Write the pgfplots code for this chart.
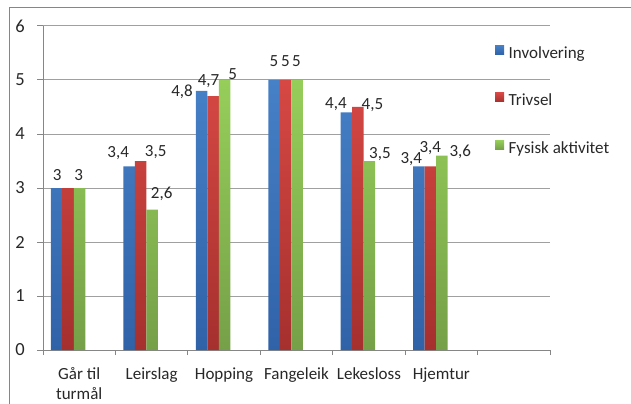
\documentclass[border=0pt]{standalone}
\usepackage{fontspec}
\setmainfont{Carlito}
\usepackage{pgfplots}
\usepackage{pgfplotstable}
\pgfplotsset{compat=1.18}

\definecolor{axgray}{RGB}{134,134,134}
\definecolor{gridgray}{RGB}{160,160,160}
\definecolor{txt}{RGB}{40,40,40}
\definecolor{blueTop}{RGB}{70,128,198}
\definecolor{blueBot}{RGB}{48,98,168}
\definecolor{blueMid}{RGB}{60,115,188}
\definecolor{redTop}{RGB}{214,72,68}
\definecolor{redBot}{RGB}{165,48,46}
\definecolor{redMid}{RGB}{195,60,56}
\definecolor{greenTop}{RGB}{150,206,90}
\definecolor{greenBot}{RGB}{118,160,72}
\definecolor{greenMid}{RGB}{138,188,82}

% x y  label offset (dx, dy in bp)  label shown (op)
\pgfplotstableread{
x y   dx    dy   op
0 3.0  0.5  12.5 1
1 3.4 -11   13.4 1
2 4.8 -19.5 -1   1
3 5.0  0    18.5 1
4 4.4 -10.5  8.4 1
5 3.4 -7.5   7   1
}\involvering
\pgfplotstableread{
x y   dx    dy   op
0 3.0  0    13   0
1 3.5  15    9   1
2 4.7 -4.5  15   1
3 5.0  0    18.5 1
4 4.5  14.5  2   1
5 3.4  0    18   1
}\trivsel
\pgfplotstableread{
x y   dx    dy   op
0 3.0 -1    12.5 1
1 2.6  9.5  15.6 1
2 5.0  8     6   1
3 5.0 -0.5  18.5 1
4 3.5  10.5  7   1
5 3.6  18.5  3.6 1
}\fysisk

\pgfplotsset{
  barlabels/.style={
    nodes near coords,
    visualization depends on={\thisrow{dx} \as \ldx},
    visualization depends on={\thisrow{dy} \as \ldy},
    visualization depends on={\thisrow{op} \as \lop},
    every node near coord/.append style={anchor=center, inner sep=0pt,
      xshift=\ldx bp, yshift=\ldy bp, opacity=\lop, text=txt,
      font=\fontsize{17bp}{20bp}\selectfont},
  },
}

\begin{document}
\begin{tikzpicture}[x=1bp,y=1bp]
\useasboundingbox (0,0) rectangle (631,403);
\draw[axgray, line width=1bp] (9,-10) -- (9,395) -- (645,395);
\begin{axis}[
  at={(43bp,53bp)}, anchor=south west,
  scale only axis, width=507bp, height=324bp,
  xmin=-0.5, xmax=6.5, ymin=0, ymax=6,
  axis lines*=left,
  axis line style={axgray, line width=1bp},
  ybar, bar width=11.5bp,
  xtick={0,...,5},
  xticklabels={{\strut Går til\\turmål},\strut Leirslag,\strut Hopping,\strut Fangeleik,\strut Lekesloss,\strut Hjemtur},
  major x tick style={draw=none},
  minor xtick={-0.5,0.5,...,6.5},
  minor x tick style={axgray, line width=1bp},
  minor tick length=5bp,
  ytick={0,...,6},
  y tick style={axgray, line width=1bp},
  major tick length=6bp,
  tick align=outside,
  ymajorgrids,
  grid style={gridgray, line width=1bp},
  xticklabel style={anchor=north, align=center, inner sep=0pt, text=txt,
    yshift=-10bp, font=\fontsize{17bp}{19.5bp}\selectfont},
  yticklabel style={anchor=east, inner sep=0pt, text=txt,
    xshift=-12bp, font=\fontsize{18.5bp}{20bp}\selectfont},
  /pgf/number format/use comma,
  /pgf/number format/assume math mode=true,
  legend style={at={(0.8915,0.9404)}, anchor=north west, draw=none, fill=none,
    inner sep=0pt, row sep=30.4bp, text=txt,
    font=\fontsize{17bp}{20bp}\selectfont,
    nodes={inner sep=0pt, text height=12bp, text depth=4bp},
    /tikz/every odd column/.append style={column sep=4.5bp}},
  legend cell align=left,
]
\addplot[draw=none, bar shift=-22.5bp, top color=blueTop, bottom color=blueBot,
  barlabels,
  legend image code/.code={\fill[blueMid] (0,0) rectangle (9bp,9bp);}]
  table[x=x, y=y] {\involvering};
\addlegendentry{Involvering}
\addplot[draw=none, bar shift=-11bp, top color=redTop, bottom color=redBot,
  barlabels,
  legend image code/.code={\fill[redMid] (0,0) rectangle (9bp,9bp);}]
  table[x=x, y=y] {\trivsel};
\addlegendentry{Trivsel}
\addplot[draw=none, bar shift=0.5bp, top color=greenTop, bottom color=greenBot,
  barlabels,
  legend image code/.code={\fill[greenMid] (0,0) rectangle (9bp,9bp);}]
  table[x=x, y=y] {\fysisk};
\addlegendentry{Fysisk aktivitet}
\end{axis}
\end{tikzpicture}
\end{document}
